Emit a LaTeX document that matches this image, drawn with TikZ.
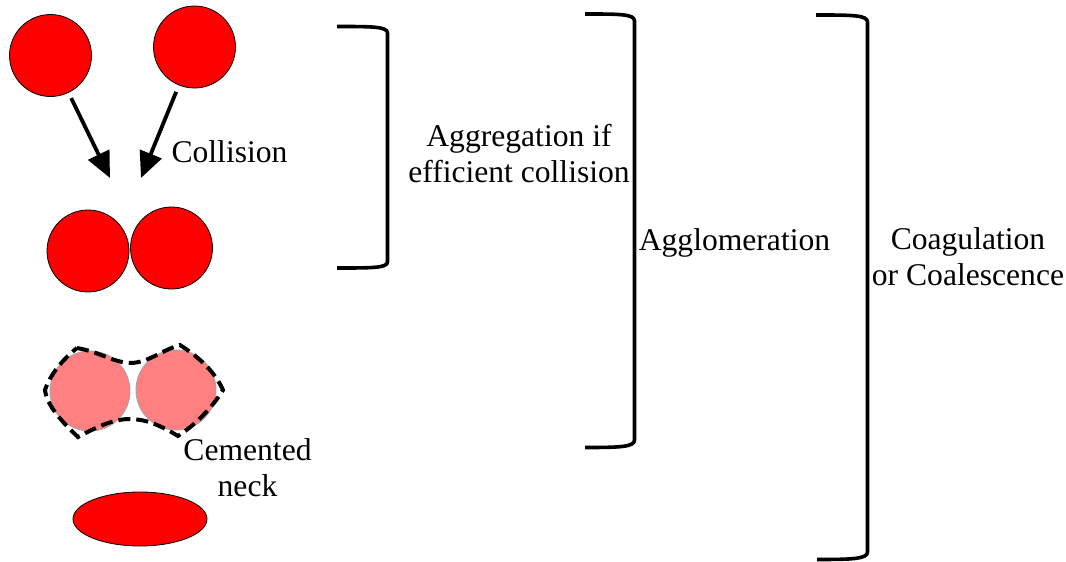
\documentclass[tikz,border=0pt]{standalone}
\usepackage{fontspec}
\setmainfont{Liberation Serif}
\usetikzlibrary{arrows.meta,shapes.geometric}
\begin{document}
\begin{tikzpicture}[x=1pt,y=-1pt,
  lbl/.style={font=\fontsize{31.6}{36}\selectfont, align=center, anchor=base, inner sep=0pt},
  particle/.style={circle, draw=black, line width=0.8pt, fill=red, inner sep=0pt, minimum size=82pt},
  sintered/.style={circle, draw=black!35, line width=0.9pt, fill={rgb,255:red,255;green,128;blue,128}, inner sep=0pt, minimum size=80pt},
  bracketline/.style={line width=3.6pt},
  arr/.style={line width=3.8pt, -{Triangle[length=26pt,width=23pt]}},
  neckline/.style={line width=4pt, dash pattern=on 12pt off 6pt}
]
\useasboundingbox (0,0) rectangle (1066,562);

% particles
\node[particle] (p1) at (50.5,55.5) {};
\node[particle] (p2) at (194.5,47) {};
\node[particle] (q1) at (88,251) {};
\node[particle] (q2) at (171.5,248) {};

\coordinate (tipL) at (110,178);
\coordinate (tipR) at (141,178);
\draw[arr, shorten <=6pt] (p1) -- (tipL);
\draw[arr, shorten <=7pt] (p2) -- (tipR);
\node[lbl] (collision) at (229.5,162) {Collision};

% cemented pair
\node[sintered] (s1) at (90,391) {};
\node[sintered] (s2) at (176,390) {};
\draw[neckline] (77,348) .. controls (100,352) and (112,362) .. (130,363)
  .. controls (148,363) and (162,350) .. (180,345)
  .. controls (200,358) and (215,372) .. (223,390)
  .. controls (212,408) and (195,425) .. (178,436)
  .. controls (160,425) and (145,419) .. (130,419)
  .. controls (112,419) and (95,428) .. (78,437)
  .. controls (60,420) and (47,405) .. (45,390)
  .. controls (50,375) and (62,360) .. (77,348) -- cycle;
\node[lbl] (neck) at (247.5,496) {Cemented\\neck};

% coalesced particle
\node[ellipse, draw=black, line width=0.8pt, fill=red, inner sep=0pt,
      minimum width=134pt, minimum height=54pt] (merged) at (140,519) {};

% brackets
\draw[bracketline] (337,26.5) .. controls (372,26.5) and (387.5,26.5) .. (387.5,33)
  -- (387.5,262) .. controls (387.5,268) and (372,268) .. (337,268);
\draw[bracketline] (585,14) .. controls (620,14) and (634.5,14) .. (634.5,21)
  -- (634.5,440) .. controls (634.5,447) and (620,447.5) .. (585,447.5);
\draw[bracketline] (816,15) .. controls (852,15) and (867.5,15) .. (867.5,22)
  -- (867.5,552) .. controls (867.5,559) and (852,559.5) .. (817,559.5);

\node[lbl] (aggr) at (519,182) {Aggregation if\\efficient collision};
\node[lbl] (aggl) at (734.5,250) {Agglomeration};
\node[lbl] (coag) at (968,285) {Coagulation\\or Coalescence};
\end{tikzpicture}
\end{document}
